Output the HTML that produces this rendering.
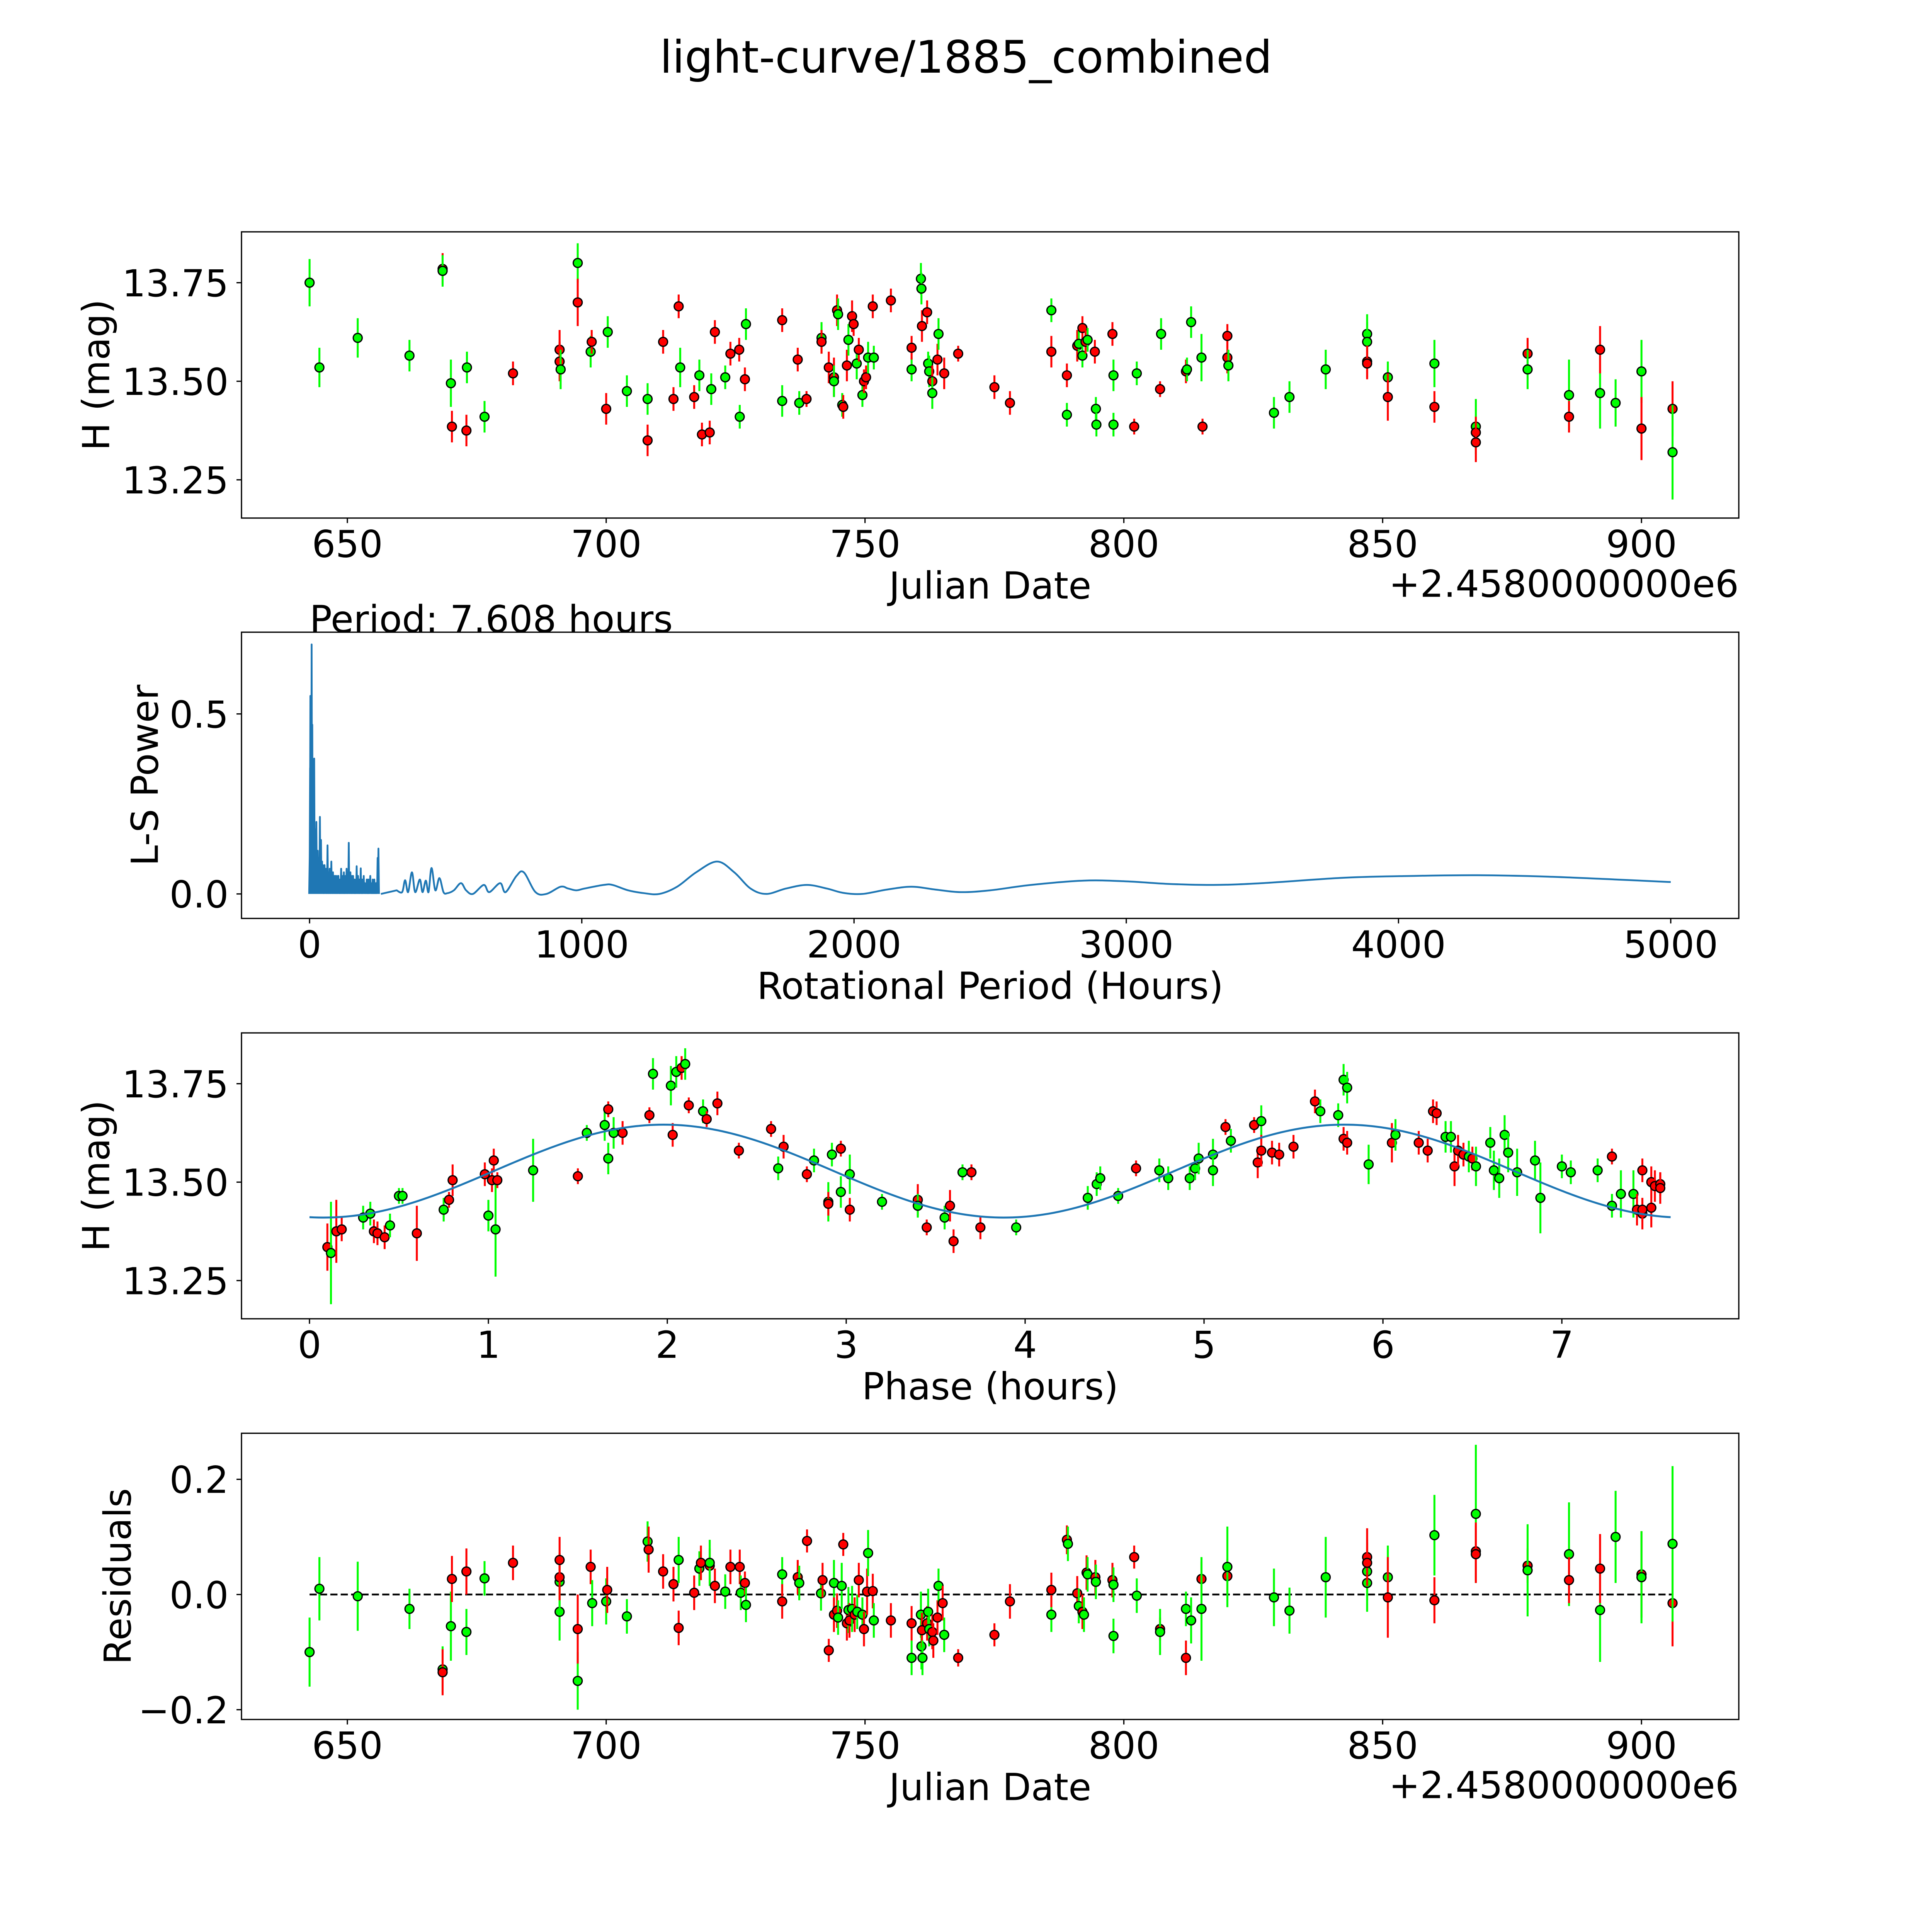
<!DOCTYPE html>
<html><head><meta charset="utf-8"><style>html,body{margin:0;padding:0;background:#fff;overflow:hidden}svg{display:block;width:100vw;height:100vh}text{font-family:"DejaVu Sans","Liberation Sans",sans-serif}</style></head>
<body>
<svg id="fig" viewBox="0 0 5400 5400" preserveAspectRatio="none" xmlns="http://www.w3.org/2000/svg">
<rect x="0" y="0" width="5400" height="5400" fill="#fff"/>
<text x="2700" y="203" font-size="125" text-anchor="middle">light-curve/1885_combined</text>
<g id="p1"></g>
<g id="p2"></g>
<g id="p3"></g>
<g id="p4"></g>
</svg>
<script>
// ---- Panel 1 data
const lcJD = [642.7,644.6,652,662,668.4,668.4,670,670.2,673,673.1,676.5,682,691,691,691.2,694.5,694.5,697,697.2,700,700.3,704,708,708,711,713,714,714.3,717,718,718.5,720,720.3,721,723,724,725.7,725.8,726.8,727,734,734,737,737.3,738.7,741.6,741.6,743,744,744,744.6,744.8,745.6,745.8,746.5,746.8,747.5,747.8,748.4,748.8,749.5,749.8,750.2,750.6,751.5,751.7,755,759,759,760.8,760.9,761,762,762.2,762.4,763,763,764,764.2,765.3,768,775,778,786,786,789,789,791,791.3,792,792,792.6,793,794.4,794.6,794.7,797.8,798,798,802.5,802,807,807.2,812,812.2,813,815,815.2,820,820,820.2,829,832,839,847,847,847,847,851,851,860,860,868,868,868,878,878,886,886,892,892,895,900,900,906,906];
const lcMag = [13.75,13.535,13.61,13.565,13.785,13.78,13.495,13.385,13.375,13.535,13.41,13.52,13.58,13.55,13.53,13.80,13.70,13.575,13.60,13.43,13.625,13.475,13.455,13.35,13.60,13.455,13.69,13.535,13.46,13.515,13.365,13.37,13.48,13.625,13.51,13.57,13.58,13.41,13.505,13.645,13.655,13.45,13.555,13.445,13.455,13.61,13.60,13.535,13.51,13.50,13.68,13.67,13.44,13.435,13.54,13.605,13.665,13.645,13.545,13.58,13.465,13.50,13.51,13.56,13.69,13.56,13.705,13.53,13.585,13.76,13.735,13.64,13.675,13.545,13.525,13.50,13.47,13.555,13.62,13.52,13.57,13.485,13.445,13.68,13.575,13.415,13.515,13.59,13.595,13.635,13.565,13.60,13.605,13.575,13.43,13.39,13.62,13.515,13.39,13.52,13.385,13.48,13.62,13.525,13.53,13.65,13.56,13.385,13.615,13.56,13.54,13.42,13.46,13.53,13.62,13.60,13.55,13.545,13.51,13.46,13.545,13.435,13.385,13.37,13.345,13.57,13.53,13.465,13.41,13.47,13.58,13.445,13.525,13.38,13.43,13.32];
const lcErr = [.06,.05,.05,.04,.04,.04,.06,.04,.04,.04,.04,.03,.05,.05,.05,.05,.06,.04,.03,.04,.04,.04,.04,.04,.03,.03,.03,.05,.03,.04,.03,.03,.04,.03,.03,.03,.03,.03,.03,.04,.03,.04,.03,.03,.02,.04,.03,.04,.05,.04,.04,.04,.03,.03,.04,.04,.04,.03,.04,.03,.03,.03,.03,.04,.03,.03,.03,.03,.03,.04,.04,.04,.03,.03,.04,.04,.04,.04,.04,.04,.02,.03,.03,.03,.04,.03,.03,.04,.04,.03,.03,.03,.03,.03,.03,.03,.03,.04,.03,.03,.02,.02,.04,.03,.03,.04,.06,.02,.03,.04,.04,.04,.04,.05,.05,.05,.04,.04,.04,.06,.06,.04,.07,.04,.05,.04,.05,.09,.04,.09,.06,.06,.08,.08,.07,.12];
const lcCol = "GGGGRGGRRG"+"GRRRGGRGRR"+"GGGRRRRGRG"+"RRGRGRRGRG"+"RGRGRGRRRG"+"RGGRRGRRGR"+"GRRGRGRGRG"+"GRRGGRGRGR"+"RRRGRGRRGR"+"GRGRGGRGGG"+"RRGRGGGRRR"+"GGGGGGRRGR"+"GRGRRRGGRG"+"RGGRRG";

// ---- Panel 2 data
const lsSpikePeriod = [0.5,1,1.5,2,2.5,3,3.5,4,4.5,5,5.5,6,6.5,7,7.6,8.2,8.8,9.5,10,11,12,13,14,15,16,17,18,19,20,21,22,23,24,25,26,27,28,29,30,31,32,33,34,35,36,37,38,39,40,41,42,43,44,45,46,47,48,49,50,52,54,55,57,58,60,61,63,64,66,68,69,71,72,74,76,77,79,80,82,84,86,88,90,92,94,96,98,100,102,104,106,108,110,112,114,116,118,120,122,124,126,128,130,132,134,136,138,140,142,144,146,148,150,152,154,156,158,160,163,165,168,170,173,175,178,180,183,185,188,190,193,196,199,203,206,210,213,215,218,220,223,226,229,232,235,238,241,244,247,250,253,256,259,262,297,312];
const lsSpikePower = [.1,.13,.2,.35,.18,.55,.3,.4,.25,.12,.2,.3,.45,.5,.693,.45,.3,.28,.47,.25,.2,.33,.37,.25,.2,.376,.12,.18,.1,.13,.15,.08,.12,.2,.1,.07,.09,.11,.12,.08,.06,.1,.09,.07,.05,.08,.214,.06,.08,.1,.15,.06,.07,.09,.09,.05,.05,.08,.07,.04,.06,.08,.05,.05,.07,.06,.04,.04,.135,.06,.05,.04,.06,.07,.05,.03,.06,.09,.05,.04,.06,.05,.03,.05,.05,.04,.05,.04,.03,.05,.05,.04,.03,.04,.03,.07,.04,.03,.05,.04,.06,.04,.03,.05,.04,.07,.04,.03,.05,.142,.04,.05,.06,.04,.03,.05,.04,.05,.02,.04,.03,.04,.077,.03,.05,.03,.04,.03,.071,.03,.04,.03,.05,.03,.02,.04,.03,.04,.03,.04,.05,.03,.02,.04,.03,.04,.02,.03,.03,.10,.126];
const lsSmoothPeriod = [320,340,351,362,376,388,405,415,427,437,448,462,477,492,506,530,556,575,600,640,660,700,720,760,787,830,870,922,950,980,1010,1080,1113,1170,1230,1285,1350,1420,1497,1560,1620,1678,1750,1827,1900,1960,2030,2120,2211,2300,2392,2500,2650,2845,3000,3150,3320,3500,3800,4050,4292,4550,4800,5000];
const lsSmoothPower = [.01,.005,.038,.005,.06,.005,.04,.005,.037,.005,.072,.01,.044,.005,.002,.01,.03,.01,0,.025,.005,.03,.005,.05,.06,.005,0,.02,.015,.01,.015,.025,.025,.01,.002,0,.02,.06,.09,.06,.015,0,.015,.025,.015,.003,0,.012,.02,.012,.005,.01,.025,.037,.035,.028,.025,.03,.045,.05,.052,.048,.04,.033];
const lsXTicks = [0,1000,2000,3000,4000,5000];
const lsYTicks = ["0.0","0.5"];

// ---- Panel 3 data
const phX = [0.1,0.12,0.15,0.18,0.3,0.34,0.36,0.38,0.42,0.45,0.5,0.52,0.6,0.75,0.78,0.8,0.98,1.0,1.02,1.03,1.04,1.05,1.25,1.5,1.55,1.65,1.67,1.67,1.7,1.75,1.9,1.92,2.02,2.03,2.05,2.08,2.1,2.12,2.2,2.22,2.28,2.4,2.58,2.62,2.65,2.78,2.82,2.9,2.9,2.92,2.97,2.97,3.02,3.02,3.2,3.4,3.4,3.45,3.55,3.58,3.6,3.65,3.7,3.75,3.95,4.35,4.4,4.42,4.52,4.62,4.75,4.8,4.92,4.95,4.97,5.05,5.05,5.12,5.15,5.28,5.32,5.3,5.32,5.38,5.42,5.5,5.62,5.65,5.75,5.78,5.8,5.78,5.8,5.92,6.05,6.07,6.2,6.25,6.28,6.3,6.35,6.38,6.4,6.42,6.45,6.48,6.5,6.52,6.6,6.62,6.65,6.68,6.7,6.75,6.85,6.88,7.0,7.05,7.2,7.28,7.28,7.33,7.4,7.42,7.45,7.45,7.5,7.5,7.52,7.55,7.55,7.45];
const phMag = [13.335,13.32,13.375,13.38,13.41,13.42,13.375,13.37,13.36,13.39,13.465,13.465,13.37,13.43,13.455,13.505,13.52,13.415,13.505,13.555,13.38,13.505,13.53,13.515,13.625,13.645,13.685,13.56,13.625,13.625,13.67,13.775,13.745,13.62,13.78,13.79,13.80,13.695,13.68,13.66,13.70,13.58,13.635,13.535,13.59,13.52,13.555,13.45,13.445,13.57,13.585,13.475,13.43,13.52,13.45,13.455,13.44,13.385,13.41,13.44,13.35,13.525,13.525,13.385,13.385,13.46,13.495,13.51,13.465,13.535,13.53,13.51,13.51,13.535,13.56,13.57,13.53,13.64,13.605,13.645,13.655,13.55,13.58,13.575,13.57,13.59,13.705,13.68,13.67,13.76,13.74,13.61,13.60,13.545,13.60,13.62,13.60,13.58,13.68,13.675,13.615,13.615,13.54,13.58,13.57,13.565,13.56,13.54,13.60,13.53,13.51,13.62,13.575,13.525,13.555,13.46,13.54,13.525,13.53,13.44,13.565,13.47,13.47,13.43,13.42,13.53,13.435,13.50,13.49,13.495,13.485,13.43];
const phErr = [.06,.13,.08,.03,.03,.03,.03,.03,.03,.03,.02,.02,.07,.03,.02,.04,.03,.04,.03,.03,.12,.02,.08,.02,.02,.04,.02,.04,.04,.03,.02,.04,.05,.03,.04,.03,.04,.02,.03,.02,.03,.02,.02,.03,.03,.02,.03,.05,.03,.03,.02,.04,.03,.05,.02,.04,.03,.02,.03,.04,.03,.02,.02,.03,.02,.03,.03,.03,.02,.02,.03,.03,.03,.03,.04,.04,.04,.02,.03,.02,.04,.04,.04,.03,.03,.03,.03,.03,.03,.04,.04,.03,.03,.05,.05,.04,.03,.03,.03,.03,.04,.04,.05,.04,.03,.04,.03,.05,.04,.05,.05,.05,.05,.06,.05,.09,.03,.03,.03,.03,.02,.06,.06,.04,.04,.03,.05,.04,.04,.03,.04,.03];
const phCol = "RGRRGGRRRG"+"GGRGRRRGRR"+"GRGRGGRGGR"+"RGGRGRGRGR"+"RRRGRRGGRG"+"RGRGGRGRGR"+"RGRRGGGGGR"+"GGGGGGGRGR"+"GRRRRRRGGG"+"GRRGRGRRRR"+"GGRRRGRGGG"+"GGGGGGGGGG"+"RGGRRRRRRRRR";
const fitPeriod = [7.608];
const fitMean = [13.528];
const fitAmp = [0.118];
const fitPeak = [1.98];

// ---- Panel 4 data
const rsJD = [642.7,644.6,652,662,668.4,668.4,670,670.2,673,673,676.5,682,691,691,691,691,694.5,694.5,697,697.3,700,700.2,704,708,708.2,711,713,714,714,717,718,718.3,720,720,721,723,724,725.8,726,726.8,727,734,734,737,737.3,738.8,741.5,741.8,743,744,744,744.6,744.8,745.5,745.8,746.5,746.8,747,747.5,748,748.5,748.8,749.5,749.8,750.4,750.6,751.5,751.7,755,759,759,760.8,760.9,761,761.1,762,762.2,762.4,763,763.2,764,764.2,765,765.3,768,775,778,786,786,789,789.2,791,791.3,792,792.3,792.8,793,794.5,794.6,797.8,798,798,802,802.5,807,807,812,812,813,815,815,820,820,829,832,839,847,847,847,847,851,851,860,860,868,868,868,878,878,886,886,892,892,895,900,900,906,906];
const rsVal = [-.10,.01,-.003,-.025,-.13,-.135,-.055,.027,-.065,.04,.028,.055,-.03,.022,.03,.06,-.15,-.06,.048,-.015,-.012,.008,-.038,.092,.078,.04,.018,.06,-.058,.003,.045,.055,.05,.055,.015,.005,.048,.048,.003,.02,-.018,.035,-.012,.03,.02,.093,.002,.025,-.097,.02,-.035,-.028,-.04,.015,.087,-.05,-.027,-.045,-.025,-.035,-.03,.025,-.035,-.06,.005,.072,.006,-.045,-.045,-.11,-.05,-.035,-.09,-.062,-.11,-.05,-.03,-.06,-.065,-.08,-.04,.015,-.015,-.07,-.11,-.07,-.012,-.035,.008,.095,.088,.002,-.02,-.03,-.035,.038,.035,.03,.022,.025,.017,-.072,.065,-.002,-.06,-.065,-.11,-.025,-.045,.027,-.025,.032,.048,-.005,-.028,.03,.04,.02,.065,.055,.03,-.005,.103,-.01,.14,.075,.07,.05,.042,.07,.025,-.027,.045,.1,.035,.03,-.015,.088];
const rsErr = [.06,.055,.06,.035,.04,.04,.06,.04,.04,.04,.03,.03,.05,.05,.04,.04,.05,.06,.03,.04,.04,.04,.03,.035,.04,.03,.03,.04,.03,.03,.03,.03,.03,.04,.03,.03,.03,.03,.03,.02,.03,.03,.03,.03,.03,.02,.03,.03,.02,.04,.03,.03,.03,.04,.02,.03,.04,.03,.04,.03,.03,.03,.03,.03,.04,.04,.03,.03,.03,.03,.03,.04,.04,.03,.03,.03,.04,.03,.03,.03,.03,.03,.03,.03,.015,.02,.03,.03,.03,.025,.03,.03,.03,.03,.03,.03,.03,.03,.03,.03,.03,.03,.02,.03,.02,.04,.03,.03,.04,.03,.09,.03,.07,.05,.04,.07,.05,.05,.05,.04,.055,.07,.07,.04,.12,.05,.05,.03,.08,.09,.04,.09,.06,.08,.075,.08,.075,.135];
const rsCol = "GGGGGRGRGR"+"GRGGRRGRRG"+"GRGGRRRGRR"+"GRRGRGRRGR"+"GGRRGRGRRG"+"RRGGRRGRGR"+"GRGRRGRGRG"+"RGGRGRGGRR"+"RGRGRRRGRR"+"GRGRGRGRGR"+"GGRGRGRGGR"+"GRGGGGGGRR"+"GRGRGRRRGG"+"RGRGRGRG";

const jdTicks = [650,700,750,800,850,900];
const magTicks = ["13.25","13.50","13.75"];
const phTicks = [0,1,2,3,4,5,6,7];
const rsTicks = ["\u22120.2","0.0","0.2"];
const rsTickVals = [-0.2,0,0.2];

const NS = "http://www.w3.org/2000/svg";
const L = 675, R = 4860;
function mk(parent, tag, attrs) {
  const e = document.createElementNS(NS, tag);
  for (const k in attrs) e.setAttribute(k, attrs[k]);
  parent.appendChild(e);
  return e;
}
function lin(d0, d1, r0, r1) { return v => r0 + (v - d0) * (r1 - r0) / (d1 - d0); }
function frame(g, top, bot, name) {
  const r = mk(g, "rect", {x: L, y: top, width: R - L, height: bot - top, fill: "none", stroke: "#000", "stroke-width": 3.5});
  
  
}
function xtick(g, x, bot, label, name) {
  const t = mk(g, "line", {x1: x, x2: x, y1: bot, y2: bot + 14, stroke: "#000", "stroke-width": 3.5});
  
  
  const tx = mk(g, "text", {x: x, y: bot + 109, "font-size": 104, "text-anchor": "middle"});
  tx.textContent = label;
  
  
}
function ytick(g, y, label, name) {
  const t = mk(g, "line", {x1: L - 14, x2: L, y1: y, y2: y, stroke: "#000", "stroke-width": 3.5});
  
  
  const tx = mk(g, "text", {x: L - 36, y: y + 38, "font-size": 104, "text-anchor": "end"});
  tx.textContent = label;
  
  
}
function xlabel(g, bot, label, name) {
  const t = mk(g, "text", {x: (L + R) / 2, y: bot + 225, "font-size": 104, "text-anchor": "middle"});
  t.textContent = label;
  
  
}
function ylabel(g, bx, top, bot, label, name) {
  const cy = (top + bot) / 2;
  const t = mk(g, "text", {x: bx, y: cy, "font-size": 104, "text-anchor": "middle", transform: `rotate(-90 ${bx} ${cy})`});
  t.textContent = label;
  
  
}
function offsetText(g, bot, name) {
  const t = mk(g, "text", {x: R, y: bot + 220, "font-size": 104, "text-anchor": "end"});
  t.textContent = "+2.4580000000e6";
  
  
}
function points(g, xs, ys, es, cols, sx, sy, name) {
  for (let i = 0; i < xs.length; i++) {
    const c = cols[i] === "R" ? "#ff0000" : "#00ff00";
    const px = sx(xs[i]);
    const eb = mk(g, "line", {x1: px, x2: px, y1: sy(ys[i] - es[i]), y2: sy(ys[i] + es[i]), stroke: c, "stroke-width": 5.5});
    
    
    const m = mk(g, "circle", {cx: px, cy: sy(ys[i]), r: 12.5, fill: c, stroke: "#000", "stroke-width": 3.5});
    
    
  }
}

(function () {
  const g = document.getElementById("p1");
  const top = 648, bot = 1448;
  const sx = lin(629.55, 918.8, L, R), sy = lin(13.153, 13.879, bot, top);
  points(g, lcJD, lcMag, lcErr, lcCol, sx, sy, "light-curve");
  frame(g, top, bot, "light-curve");
  jdTicks.forEach(v => xtick(g, sx(v), bot, String(v), "light-curve"));
  magTicks.forEach(v => ytick(g, sy(parseFloat(v)), v, "light-curve"));
  xlabel(g, bot, "Julian Date", "light-curve");
  offsetText(g, bot, "light-curve");
  ylabel(g, 305, top, bot, "H (mag)", "light-curve");
})();

(function () {
  const g = document.getElementById("p2");
  const top = 1767, bot = 2567;
  const sx = lin(-250, 5250, L, R), sy = lin(-0.068, 0.727, bot, top);
  let d = "";
  for (let i = 0; i < lsSpikePeriod.length; i++) {
    const x = sx(lsSpikePeriod[i]);
    d += `M${x - 1.5},${sy(0)}L${x},${sy(lsSpikePower[i])}L${x + 1.5},${sy(0)}`;
  }
  const sp = mk(g, "path", {d: d, fill: "none", stroke: "#1f77b4", "stroke-width": 5, "stroke-linejoin": "round"});
  
  
  const pts = lsSmoothPeriod.map((p, i) => [sx(p), sy(lsSmoothPower[i])]);
  let d2 = `M${sx(262)},${sy(0)}`;
  for (let i = 0; i < pts.length - 1; i++) {
    const p0 = pts[Math.max(0, i - 1)], p1 = pts[i], p2 = pts[i + 1], p3 = pts[Math.min(pts.length - 1, i + 2)];
    if (i === 0) d2 += `L${p1[0]},${p1[1]}`;
    const c1 = [p1[0] + (p2[0] - p0[0]) / 6, p1[1] + (p2[1] - p0[1]) / 6];
    const c2 = [p2[0] - (p3[0] - p1[0]) / 6, p2[1] - (p3[1] - p1[1]) / 6];
    d2 += `C${c1[0]},${c1[1]} ${c2[0]},${c2[1]} ${p2[0]},${p2[1]}`;
  }
  const sm = mk(g, "path", {d: d2, fill: "none", stroke: "#1f77b4", "stroke-width": 5, "stroke-linejoin": "round"});
  
  
  frame(g, top, bot, "periodogram");
  lsXTicks.forEach(v => xtick(g, sx(v), bot, String(v), "periodogram"));
  lsYTicks.forEach(v => ytick(g, sy(parseFloat(v)), v, "periodogram"));
  xlabel(g, bot, "Rotational Period (Hours)", "periodogram");
  ylabel(g, 441, top, bot, "L-S Power", "periodogram");
  const pt = mk(g, "text", {x: sx(0), y: top, "font-size": 104});
  pt.textContent = "Period: " + fitPeriod[0].toFixed(3) + " hours";
  
  
})();

(function () {
  const g = document.getElementById("p3");
  const top = 2887, bot = 3686;
  const sx = lin(-0.38, 7.989, L, R), sy = lin(13.153, 13.879, bot, top);
  points(g, phX, phMag, phErr, phCol, sx, sy, "phased");
  let d = "";
  const P = fitPeriod[0];
  for (let k = 0; k <= 300; k++) {
    const p = P * k / 300;
    const m = fitMean[0] + fitAmp[0] * Math.cos(4 * Math.PI * (p - fitPeak[0]) / P);
    d += (k ? "L" : "M") + sx(p) + "," + sy(m);
  }
  const c = mk(g, "path", {d: d, fill: "none", stroke: "#1f77b4", "stroke-width": 5.5});
  
  
  frame(g, top, bot, "phased");
  phTicks.forEach(v => xtick(g, sx(v), bot, String(v), "phased"));
  magTicks.forEach(v => ytick(g, sy(parseFloat(v)), v, "phased"));
  xlabel(g, bot, "Phase (hours)", "phased");
  ylabel(g, 305, top, bot, "H (mag)", "phased");
})();

(function () {
  const g = document.getElementById("p4");
  const top = 4006, bot = 4806;
  const sx = lin(629.55, 918.8, L, R), sy = lin(-0.217, 0.280, bot, top);
  const z = mk(g, "line", {x1: sx(Math.min(...rsJD)), x2: sx(Math.max(...rsJD)), y1: sy(0), y2: sy(0), stroke: "#000", "stroke-width": 5, "stroke-dasharray": "20 9"});
  
  
  points(g, rsJD, rsVal, rsErr, rsCol, sx, sy, "residual");
  frame(g, top, bot, "residuals");
  jdTicks.forEach(v => xtick(g, sx(v), bot, String(v), "residuals"));
  rsTicks.forEach((v, i) => ytick(g, sy(rsTickVals[i]), v, "residuals"));
  xlabel(g, bot, "Julian Date", "residuals");
  offsetText(g, bot, "residuals");
  ylabel(g, 365, top, bot, "Residuals", "residuals");
})();
</script>
</body></html>
